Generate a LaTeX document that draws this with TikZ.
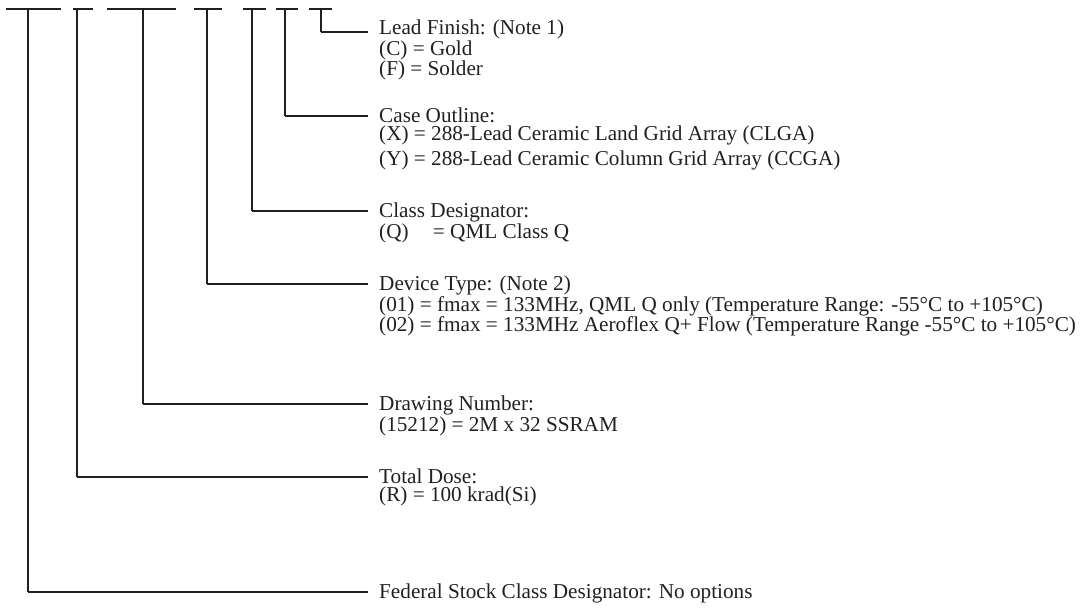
\documentclass[tikz,border=0pt]{standalone}
\usepackage{fontspec}
\setmainfont{Liberation Serif}
\usepackage{xcolor}
\definecolor{Ink}{RGB}{35,31,32}
\usepackage{tikz}
\tikzstyle{Bar}=[draw=Ink,line width=2.6pt]
\tikzstyle{Stem}=[draw=Ink,line width=1.2pt]
\tikzstyle{Leg}=[draw=Ink,line width=2pt]
\tikzstyle{NodeTxt}=[anchor=north west,align=left,inner sep=0pt,text=Ink,
font=\fontsize{21.2}{16.5}\selectfont]

\begin{document}
\begin{tikzpicture}[x=1pt,y=-1pt]
        \useasboundingbox(0,0)rectangle(1081,608);
        % code fields
        \coordinate(b1)at(6,9);\coordinate(b1r)at(61,9);
        \coordinate(b2)at(73,9);\coordinate(b2r)at(93,9);
        \coordinate(b3)at(107,9);\coordinate(b3r)at(176,9);
        \coordinate(b4)at(194,9);\coordinate(b4r)at(222,9);
        \coordinate(b5)at(243,9);\coordinate(b5r)at(266,9);
        \coordinate(b6)at(276,9);\coordinate(b6r)at(298,9);
        \coordinate(b7)at(309,9);\coordinate(b7r)at(332,9);
        \draw[Bar](b1)--(b1r);
        \draw[Bar](b2)--(b2r);
        \draw[Bar](b3)--(b3r);
        \draw[Bar](b4)--(b4r);
        \draw[Bar](b5)--(b5r);
        \draw[Bar](b6)--(b6r);
        \draw[Bar](b7)--(b7r);
        % stems and corners
        \coordinate(s1)at(28,9);\coordinate(c1)at(28,592);
        \coordinate(s2)at(77,9);\coordinate(c2)at(77,477);
        \coordinate(s3)at(143,9);\coordinate(c3)at(143,404);
        \coordinate(s4)at(207,9);\coordinate(c4)at(207,284);
        \coordinate(s5)at(252,9);\coordinate(c5)at(252,211);
        \coordinate(s6)at(285,9);\coordinate(c6)at(285,116);
        \coordinate(s7)at(321,9);\coordinate(c7)at(321,32);
        \coordinate(e1)at(368,592);
        \coordinate(e2)at(368,477);
        \coordinate(e3)at(368,404);
        \coordinate(e4)at(368,284);
        \coordinate(e5)at(368,211);
        \coordinate(e6)at(368,116);
        \coordinate(e7)at(368,32);
        \draw[Stem](s1)--(c1);\draw[Leg](c1)--(e1);
        \draw[Stem](s2)--(c2);\draw[Leg](c2)--(e2);
        \draw[Stem](s3)--(c3);\draw[Leg](c3)--(e3);
        \draw[Stem](s4)--(c4);\draw[Leg](c4)--(e4);
        \draw[Stem](s5)--(c5);\draw[Leg](c5)--(e5);
        \draw[Stem](s6)--(c6);\draw[Leg](c6)--(e6);
        \draw[Stem](s7)--(c7);\draw[Leg](c7)--(e7);
        % labels
        \node[NodeTxt](t7)at(379,20){Lead Finish: (Note 1)\\
            (C) = Gold\\(F) = Solder};
        \node[NodeTxt](t6)at(379,108){Case Outline:\\[1.5pt]
            (X) = 288-Lead Ceramic Land Grid Array (CLGA)\\[4pt]
            (Y) = 288-Lead Ceramic Column Grid Array (CCGA)};
        \node[NodeTxt](t5)at(379,203){Class Designator:\\
            (Q)\hspace{0.9em} = QML Class Q};
        \node[NodeTxt](t4)at(379,276){Device Type: (Note 2)\\
            (01) = fmax = 133MHz, QML Q only (Temperature Range: -55°C to +105°C)\\
            (02) = fmax = 133MHz Aeroflex Q+ Flow (Temperature Range -55°C to +105°C)};
        \node[NodeTxt](t3)at(379,396){Drawing Number:\\
            (15212) = 2M x 32 SSRAM};
        \node[NodeTxt](t2)at(379,469){Total Dose:\\[1.5pt]
            (R) = 100 krad(Si)};
        \node[NodeTxt](t1)at(379,584){Federal Stock Class Designator: No options};
    \end{tikzpicture}
\end{document}
